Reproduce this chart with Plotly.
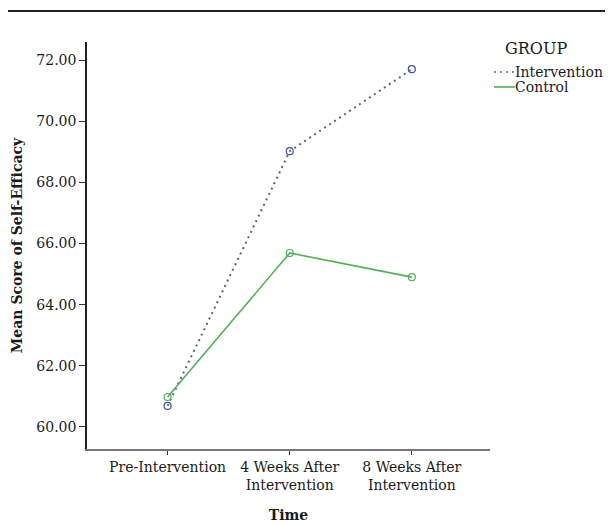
import plotly.graph_objects as go

categories = ["Pre-Intervention", "4 Weeks After<br>Intervention", "8 Weeks After<br>Intervention"]
intervention = [60.69, 69.02, 71.70]
control = [60.98, 65.69, 64.90]
y_ticks = [60, 62, 64, 66, 68, 70, 72]
y_tick_labels = ["60.00", "62.00", "64.00", "66.00", "68.00", "70.00", "72.00"]
legend_title = "GROUP"
series_names = ["Intervention", "Control"]

FONT = "DejaVu Serif"
x_idx = list(range(len(categories)))
INT_LINE = "#5f6475"
INT_MARK = "#3f4fa8"
CTL = "#4fb257"
DOTS = "2px,4px"

# page body has an 8px margin; figure is sized so that it fills the window
OFF = 8
W, H = 613 - OFF, 525 - OFF
PL, PR, PT, PB = 87 - OFF, 490 - OFF, 42 - OFF, 449 - OFF  # plot area in figure px

fig = go.Figure()
fig.add_trace(go.Scatter(
    x=x_idx, y=intervention, name=series_names[0], mode="lines+markers",
    line=dict(color=INT_LINE, width=2, dash=DOTS),
    marker=dict(symbol="circle-open", size=7, color=INT_MARK, line=dict(width=1.2)),
    showlegend=False,
))
fig.add_trace(go.Scatter(
    x=x_idx, y=control, name=series_names[1], mode="lines+markers",
    line=dict(color=CTL, width=1.6),
    marker=dict(symbol="circle-open", size=7, color=CTL, line=dict(width=1.2)),
    showlegend=False,
))

def px_x(p):
    return (p - OFF - PL) / float(PR - PL)

def px_y(p):
    return (PB - (p - OFF)) / float(PB - PT)

# top rule
fig.add_shape(type="line", xref="paper", yref="paper",
              x0=px_x(8), x1=px_x(611), y0=px_y(11), y1=px_y(11),
              line=dict(color="#222222", width=2))

# manual legend
fig.add_annotation(x=px_x(503), y=px_y(48), xref="paper", yref="paper",
                   text=legend_title, showarrow=False, xanchor="left", yanchor="middle",
                   font=dict(family=FONT, size=16, color="#1a1a1a"))
for name, yy, col, dash in [(series_names[0], 72, INT_LINE, DOTS), (series_names[1], 87, CTL, "solid")]:
    fig.add_shape(type="line", xref="paper", yref="paper",
                  x0=px_x(494), x1=px_x(515), y0=px_y(yy), y1=px_y(yy),
                  line=dict(color=col, width=1.6, dash=dash))
    fig.add_annotation(x=px_x(513), y=px_y(yy), xref="paper", yref="paper",
                       text=name, showarrow=False, xanchor="left", yanchor="middle",
                       font=dict(family=FONT, size=14, color="#1a1a1a"))

fig.update_layout(
    width=W, height=H,
    margin=dict(l=PL, r=W - PR, t=PT, b=H - PB, autoexpand=False),
    paper_bgcolor="white", plot_bgcolor="white",
    font=dict(family=FONT, size=14, color="#1a1a1a"),
    showlegend=False,
    xaxis=dict(
        tickmode="array", tickvals=x_idx, ticktext=categories,
        range=[-0.66, 2.64],
        showline=True, linecolor="#777777", linewidth=2,
        ticks="outside", ticklen=4, tickcolor="#333333", tickwidth=1,
        showgrid=False, zeroline=False, automargin=False,
        tickfont=dict(size=14, family=FONT),
        title=dict(text="<b>Time</b>", font=dict(size=14, family=FONT), standoff=18),
    ),
    yaxis=dict(
        tickmode="array", tickvals=y_ticks, ticktext=y_tick_labels,
        range=[59.28, 72.59],
        showline=True, linecolor="#222222", linewidth=1.5,
        ticks="outside", ticklen=6, tickcolor="#333333", tickwidth=1,
        showgrid=False, zeroline=False, automargin=False,
        tickfont=dict(size=14, family=FONT),
        title=dict(text="<b>Mean Score of Self-Efficacy</b>", font=dict(size=14, family=FONT), standoff=10),
    ),
)

fig.write_html("out.html")
